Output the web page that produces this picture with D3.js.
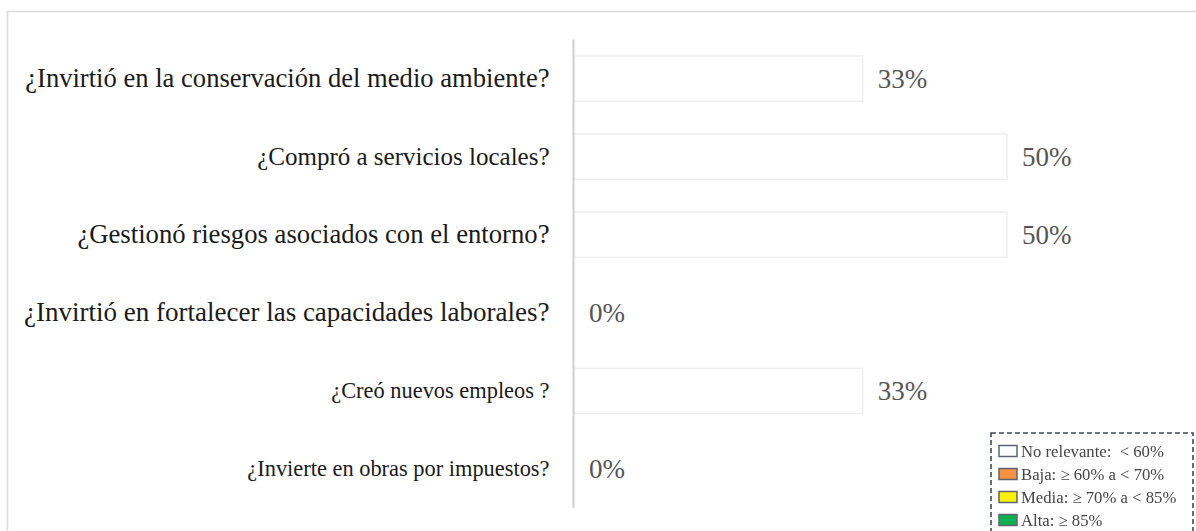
<!DOCTYPE html>
<html>
<head>
<meta charset="utf-8">
<script src="https://cdn.jsdelivr.net/npm/d3@7"></script>
<style>
  html, body { margin: 0; padding: 0; background: #fff; }
  svg { display: block; }
  .serif { font-family: "Liberation Serif", Tinos, "Times New Roman", Times, "DejaVu Serif", serif; }
</style>
</head>
<body>
<svg id="chart" width="1196" height="531"></svg>
<script>
// Preguntas del bloque de inversión en el entorno y su cumplimiento
const categories = [
  "¿Invirtió en la conservación del medio ambiente?",
  "¿Compró a servicios locales?",
  "¿Gestionó riesgos asociados con el entorno?",
  "¿Invirtió en fortalecer las capacidades laborales?",
  "¿Creó nuevos empleos ?",
  "¿Invierte en obras por impuestos?"
];
const values = [1/3, 1/2, 1/2, 0, 1/3, 0];

// Niveles de cumplimiento (umbral inferior de cada nivel)
const levelLabels = [
  "No relevante:  < 60%",
  "Baja: ≥ 60% a < 70%",
  "Media: ≥ 70% a < 85%",
  "Alta: ≥ 85%"
];
const levelThresholds = [0.60, 0.70, 0.85];
const levelColors = ["#ffffff", "#f7903f", "#fff200", "#10b050"];

// tamaño de letra de cada pregunta (px)
const questionFontSizes = [26.6, 25, 26.7, 27, 22.4, 22.4];

const svg = d3.select("#chart");

const defs = svg.append("defs");
defs.append("filter").attr("id", "soft")
  .append("feGaussianBlur").attr("stdDeviation", 0.45);

// marco exterior del panel
svg.append("rect")
  .attr("x", 7.5).attr("y", 11.5)
  .attr("width", 1300).attr("height", 600)
  .attr("fill", "none")
  .attr("stroke", "#d9d9d9")
  .attr("stroke-width", 1.5);

const x0 = 574;
const x = d3.scaleLinear().domain([0, 1]).range([x0, x0 + 866]);
const y = d3.scaleBand()
  .domain(categories)
  .range([39.5, 508])
  .paddingInner(0.42)
  .paddingOuter(0.21);

const color = d3.scaleThreshold().domain(levelThresholds).range(levelColors);

const rows = categories.map((c, i) => ({ cat: c, val: values[i] }));

// barras
svg.append("g").selectAll("rect")
  .data(rows.filter(d => d.val > 0))
  .join("rect")
  .attr("x", x(0))
  .attr("y", d => y(d.cat))
  .attr("width", d => x(d.val) - x(0))
  .attr("height", y.bandwidth())
  .attr("fill", d => color(d.val))
  .attr("stroke", "#efefef")
  .attr("stroke-width", 1.5);

// eje vertical (categorías)
const yAxis = svg.append("g")
  .attr("transform", `translate(${x0 - 0.5},0)`)
  .call(d3.axisLeft(y).tickSize(0).tickPadding(24));
yAxis.attr("font-family", null).attr("font-size", null);
yAxis.select(".domain")
  .attr("d", `M0,${y.range()[0]}V${y.range()[1]}`)
  .attr("stroke", "#d0d0d0")
  .attr("stroke-width", 2);
yAxis.selectAll("text")
  .attr("class", "serif")
  .style("font-size", (d, i) => questionFontSizes[i] + "px")
  .attr("fill", "#1a1a1a");

// etiquetas de porcentaje
svg.append("g").selectAll("text")
  .data(rows)
  .join("text")
  .attr("class", "serif")
  .attr("x", d => x(d.val) + 15)
  .attr("y", d => y(d.cat) + y.bandwidth() / 2)
  .attr("dy", "0.35em")
  .style("font-size", "27px")
  .attr("fill", "#555")
  .text(d => d3.format(".0%")(d.val));

// leyenda de niveles
const legend = svg.append("g")
  .attr("transform", "translate(991,433)")
  .attr("filter", "url(#soft)");
legend.append("rect")
  .attr("x", 0).attr("y", 0)
  .attr("width", 202).attr("height", 120)
  .attr("fill", "#fff")
  .attr("stroke", "#3e4a5e")
  .attr("stroke-width", 1.6)
  .attr("stroke-dasharray", "5,3");

const item = legend.selectAll("g.item")
  .data(levelLabels)
  .join("g")
  .attr("class", "item")
  .attr("transform", (d, i) => `translate(8,${18 + i * 23})`);
item.append("rect")
  .attr("x", 0).attr("y", -5.5)
  .attr("width", 18).attr("height", 11)
  .attr("fill", (d, i) => levelColors[i])
  .attr("stroke", "#5b6473")
  .attr("stroke-width", 1.5);
item.append("text")
  .attr("class", "serif")
  .attr("x", 22)
  .attr("dy", "0.35em")
  .style("font-size", "16.7px")
  .style("white-space", "pre")
  .attr("fill", "#444")
  .text(d => d);
</script>
</body>
</html>
